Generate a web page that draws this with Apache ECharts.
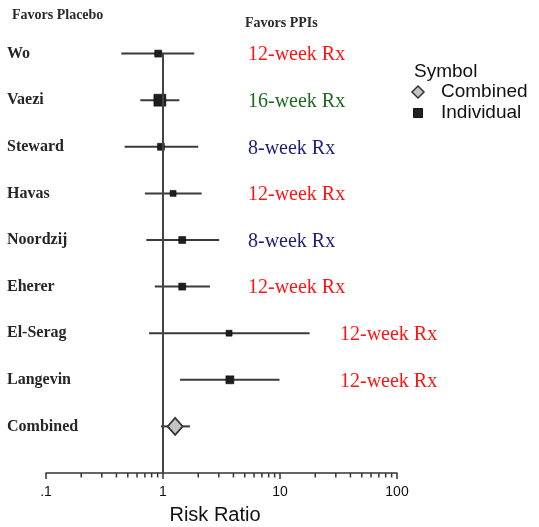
<!DOCTYPE html>
<html>
<head>
<meta charset="utf-8">
<script src="https://cdn.jsdelivr.net/npm/echarts@6/dist/echarts.min.js"></script>
<style>html,body{margin:0;padding:0;background:#fff}#c{width:539px;height:527px}</style>
</head>
<body>
<div id="c"></div>
<script>
// ---- data ----
const studies = ['Wo', 'Vaezi', 'Steward', 'Havas', 'Noordzij', 'Eherer', 'El-Serag', 'Langevin'];
const riskRatio = [0.91, 0.94, 0.96, 1.22, 1.46, 1.46, 3.67, 3.73];
const ciLower = [0.44, 0.64, 0.47, 0.70, 0.72, 0.85, 0.76, 1.40];
const ciUpper = [1.85, 1.38, 2.00, 2.14, 3.02, 2.52, 17.9, 9.9];
const treatment = ['12-week Rx', '16-week Rx', '8-week Rx', '12-week Rx', '8-week Rx', '12-week Rx', '12-week Rx', '12-week Rx'];
const combinedLabel = 'Combined';
const combinedRR = 1.27;
const combinedLower = 0.96;
const combinedUpper = 1.70;
const majorTicks = [0.1, 1, 10, 100];
const tickLabels = ['.1', '1', '10', '100'];
const minorTicks = [0.2, 0.3, 0.4, 0.5, 0.6, 0.7, 0.8, 0.9, 2, 3, 4, 5, 6, 7, 8, 9, 20, 30, 40, 50, 60, 70, 80, 90];

// ---- styles ----
const squareSize = [7, 12, 7, 6, 7, 7, 6, 8];
const rxLabelX = [248, 248, 248, 248, 248, 248, 340, 340];
const rxColor = { '12-week Rx': '#ff1414', '16-week Rx': '#1d6a1d', '8-week Rx': '#1e1e78' };
const serif = '"Liberation Serif", "DejaVu Serif", serif';
const sans = '"Liberation Sans", Arial, sans-serif';

const rowNames = studies.concat([combinedLabel]);
const nRows = rowNames.length;

const chart = echarts.init(document.getElementById('c'));

const ciData = studies.map((s, i) => [ciLower[i], ciUpper[i], i + 1])
  .concat([[combinedLower, combinedUpper, nRows]]);

chart.setOption({
  animation: false,
  backgroundColor: '#fff',
  grid: { left: 46, right: 142, top: 7, bottom: 54, outerBoundsMode: 'none', containLabel: false },
  xAxis: {
    type: 'log', logBase: 10, min: 0.1, max: 100, position: 'bottom',
    name: 'Risk Ratio', nameLocation: 'middle', nameGap: 32,
    nameTextStyle: { fontFamily: sans, fontSize: 20, color: '#111', padding: [0, 13, 0, 0] },
    axisLine: { onZero: false, lineStyle: { color: '#333', width: 1.5 } },
    axisTick: { show: true, length: 6, lineStyle: { color: '#333', width: 1.5 } },
    axisLabel: {
      fontFamily: sans, fontSize: 14, color: '#111', margin: 12,
      formatter: v => { const k = majorTicks.findIndex(t => Math.abs(t - v) < 1e-9 * Math.max(1, t)); return k >= 0 ? tickLabels[k] : ''; }
    },
    splitLine: { show: false }
  },
  yAxis: {
    type: 'value', min: 0, max: nRows + 1, interval: 1, inverse: true,
    axisLine: { show: false }, axisTick: { show: false }, splitLine: { show: false },
    axisLabel: {
      align: 'left', margin: 39, fontFamily: serif, fontSize: 16, fontWeight: 'bold', color: '#262626',
      formatter: v => (v >= 1 && v <= nRows) ? rowNames[v - 1] : ''
    }
  },
  graphic: [
    { type: 'text', left: 12, top: 8, style: { text: 'Favors Placebo', font: 'bold 14px ' + serif, fill: '#2a2a2a' } },
    { type: 'text', left: 245, top: 16, style: { text: 'Favors PPIs', font: 'bold 14px ' + serif, fill: '#2a2a2a' } },
    { type: 'text', left: 414, top: 62, style: { text: 'Symbol', font: '19px ' + sans, fill: '#111' } },
    { type: 'polygon', shape: { points: [[418, 86], [424, 92], [418, 98], [412, 92]] }, style: { fill: '#c4c4c4', stroke: '#333', lineWidth: 1.5 } },
    { type: 'text', left: 441, top: 82, style: { text: 'Combined', font: '19px ' + sans, fill: '#111' } },
    { type: 'rect', shape: { x: 413.5, y: 108.5, width: 9, height: 9 }, style: { fill: '#222', stroke: '#111', lineWidth: 1 } },
    { type: 'text', left: 441, top: 103, style: { text: 'Individual', font: '19px ' + sans, fill: '#111' } }
  ],
  series: [
    {
      type: 'custom', name: 'minor ticks', silent: true, clip: false, z: 1,
      data: minorTicks.map(v => [v]),
      renderItem: (params, api) => {
        const p = api.coord([api.value(0), nRows + 1]);
        return { type: 'line', shape: { x1: p[0], y1: p[1], x2: p[0], y2: p[1] + 4.5 }, style: { stroke: '#333', lineWidth: 1.5 } };
      }
    },
    {
      type: 'custom', name: 'CI', silent: true, z: 2,
      encode: { x: [0, 1], y: 2 },
      data: ciData,
      renderItem: (params, api) => {
        const a = api.coord([api.value(0), api.value(2)]);
        const b = api.coord([api.value(1), api.value(2)]);
        return { type: 'line', shape: { x1: a[0], y1: a[1], x2: b[0], y2: b[1] }, style: { stroke: '#3a3a3a', lineWidth: 2 } };
      }
    },
    {
      type: 'scatter', name: 'Individual', z: 4,
      symbol: 'rect',
      data: studies.map((s, i) => ({ value: [riskRatio[i], i + 1], symbolSize: squareSize[i] })),
      itemStyle: { color: '#1e1e1e', borderColor: '#000', borderWidth: 0.5, opacity: 1 },
      markLine: {
        silent: true, symbol: ['none', 'none'], label: { show: false },
        lineStyle: { color: '#444', width: 2, type: 'solid' },
        data: [[{ coord: [1, 1] }, { coord: [1, nRows + 1] }]]
      }
    },
    {
      type: 'scatter', name: 'Combined', z: 5,
      symbol: 'diamond', symbolSize: [15, 17],
      data: [[combinedRR, nRows]],
      itemStyle: { color: '#c4c4c4', borderColor: '#333', borderWidth: 1.8, opacity: 1 }
    },
    {
      type: 'custom', name: 'Rx', silent: true, clip: false, z: 6,
      data: studies.map((s, i) => [1, i + 1, i]),
      renderItem: (params, api) => {
        const i = api.value(2);
        const p = api.coord([1, api.value(1)]);
        return { type: 'text', x: rxLabelX[i], y: p[1] + 1.5, style: { text: treatment[i], font: '20px ' + serif, fill: rxColor[treatment[i]], verticalAlign: 'middle', align: 'left' } };
      }
    }
  ]
});
</script>
</body>
</html>
